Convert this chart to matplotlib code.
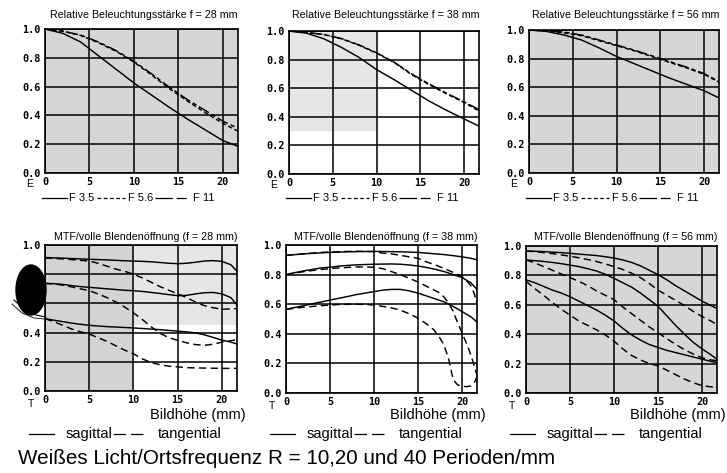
import numpy as np
import matplotlib
matplotlib.use('Agg')
import matplotlib.pyplot as plt
from matplotlib import font_manager
from matplotlib.lines import Line2D
from matplotlib.patches import Ellipse

# === Data ===
x_e = [0, 2, 4, 6, 8, 10, 12, 14, 16, 18, 20, 21.7]

# relative illumination f = 28 mm
e28_f35 = [1.0, 0.97, 0.91, 0.815, 0.72, 0.625, 0.54, 0.455, 0.375, 0.30, 0.225, 0.185]
e28_f56 = [1.0, 0.985, 0.955, 0.905, 0.845, 0.77, 0.68, 0.585, 0.50, 0.42, 0.345, 0.29]
e28_f11 = [1.0, 0.985, 0.958, 0.91, 0.85, 0.775, 0.688, 0.595, 0.51, 0.435, 0.36, 0.31]
# f = 38 mm
e38_f35 = [1.0, 0.985, 0.945, 0.885, 0.815, 0.73, 0.66, 0.585, 0.51, 0.445, 0.385, 0.335]
e38_f56 = [1.0, 0.99, 0.975, 0.945, 0.90, 0.845, 0.78, 0.695, 0.625, 0.56, 0.50, 0.44]
e38_f11 = [1.0, 0.99, 0.975, 0.947, 0.903, 0.848, 0.782, 0.70, 0.63, 0.565, 0.505, 0.45]
# f = 56 mm
e56_f35 = [1.0, 0.99, 0.965, 0.93, 0.875, 0.815, 0.765, 0.715, 0.665, 0.62, 0.575, 0.525]
e56_f56 = [1.0, 0.995, 0.98, 0.96, 0.925, 0.89, 0.855, 0.815, 0.775, 0.735, 0.69, 0.635]
e56_f11 = [1.0, 0.995, 0.985, 0.965, 0.93, 0.895, 0.86, 0.82, 0.78, 0.74, 0.695, 0.64]

x_t = [0, 1, 2, 3, 4, 5, 6, 7, 8, 9, 10, 11, 12, 13, 14, 15, 16, 17, 18, 19, 20, 21, 21.7]

# MTF f = 28 mm (sagittal / tangential, R = 10, 20, 40)
m28_s10 = [0.915, 0.912, 0.91, 0.907, 0.905, 0.902, 0.90, 0.898, 0.895, 0.892, 0.89, 0.888,
           0.885, 0.88, 0.875, 0.872, 0.875, 0.882, 0.89, 0.893, 0.888, 0.865, 0.82]
m28_t10 = [0.91, 0.908, 0.905, 0.90, 0.895, 0.89, 0.875, 0.855, 0.835, 0.82, 0.80, 0.775,
           0.745, 0.715, 0.69, 0.665, 0.64, 0.61, 0.585, 0.57, 0.56, 0.562, 0.565]
m28_s20 = [0.737, 0.735, 0.73, 0.722, 0.715, 0.71, 0.705, 0.70, 0.695, 0.69, 0.687, 0.682,
           0.675, 0.668, 0.66, 0.653, 0.655, 0.665, 0.673, 0.675, 0.665, 0.64, 0.59]
m28_t20 = [0.737, 0.733, 0.725, 0.713, 0.70, 0.687, 0.665, 0.64, 0.61, 0.575, 0.535, 0.49,
           0.44, 0.395, 0.365, 0.347, 0.33, 0.318, 0.313, 0.32, 0.335, 0.345, 0.35]
m28_s40 = [0.495, 0.485, 0.475, 0.465, 0.457, 0.45, 0.445, 0.441, 0.438, 0.435, 0.432, 0.428,
           0.424, 0.42, 0.415, 0.41, 0.405, 0.398, 0.385, 0.367, 0.348, 0.335, 0.322]
m28_t40 = [0.495, 0.475, 0.45, 0.425, 0.405, 0.39, 0.365, 0.34, 0.31, 0.28, 0.255, 0.22,
           0.195, 0.18, 0.17, 0.165, 0.16, 0.158, 0.157, 0.156, 0.155, 0.155, 0.155]

# MTF f = 38 mm
m38_s10 = [0.93, 0.935, 0.94, 0.944, 0.947, 0.95, 0.952, 0.954, 0.955, 0.956, 0.957, 0.956,
           0.955, 0.954, 0.952, 0.95, 0.945, 0.94, 0.935, 0.928, 0.92, 0.91, 0.90]
x38_t10 = [0, 2, 4, 6, 8, 10, 11, 12, 13, 14, 15, 16, 17, 18, 19, 20, 20.5, 21, 21.4, 21.7]
m38_t10 = [0.93, 0.94, 0.95, 0.955, 0.958, 0.955, 0.945, 0.94, 0.93, 0.92, 0.91, 0.885,
           0.865, 0.84, 0.815, 0.786, 0.76, 0.725, 0.67, 0.60]
m38_s20 = [0.80, 0.813, 0.825, 0.835, 0.845, 0.85, 0.857, 0.862, 0.866, 0.868, 0.87, 0.871,
           0.872, 0.87, 0.865, 0.858, 0.848, 0.835, 0.82, 0.80, 0.78, 0.745, 0.70]
x38_t20 = [0, 2, 4, 6, 8, 10, 11, 12, 13, 14, 15, 16, 17, 17.5, 18, 18.5, 19, 19.4, 20,
           20.4, 20.8, 21.2, 21.5, 21.7]
m38_t20 = [0.80, 0.82, 0.835, 0.845, 0.852, 0.85, 0.84, 0.82, 0.80, 0.775, 0.75, 0.72, 0.69,
           0.675, 0.645, 0.607, 0.55, 0.49, 0.405, 0.35, 0.29, 0.22, 0.16, 0.12]
m38_s40 = [0.565, 0.578, 0.59, 0.603, 0.615, 0.628, 0.64, 0.652, 0.665, 0.675, 0.685, 0.695,
           0.70, 0.70, 0.69, 0.675, 0.655, 0.635, 0.615, 0.585, 0.55, 0.515, 0.48]
x38_t40 = [0, 2, 4, 6, 8, 10, 11, 12, 13, 14, 15, 16, 16.8, 17.5, 17.9, 18.2, 18.5, 18.7,
           18.9, 19.2, 19.5, 20, 20.5, 21, 21.4, 21.7]
m38_t40 = [0.565, 0.58, 0.59, 0.598, 0.60, 0.595, 0.585, 0.575, 0.56, 0.535, 0.506, 0.465,
           0.427, 0.37, 0.33, 0.28, 0.225, 0.17, 0.115, 0.075, 0.055, 0.045, 0.043, 0.047,
           0.07, 0.11]

# MTF f = 56 mm
m56_s10 = [0.966, 0.964, 0.962, 0.958, 0.955, 0.95, 0.945, 0.94, 0.935, 0.927, 0.918, 0.905,
           0.888, 0.865, 0.835, 0.805, 0.77, 0.73, 0.695, 0.66, 0.625, 0.595, 0.575]
m56_t10 = [0.966, 0.961, 0.955, 0.948, 0.94, 0.93, 0.92, 0.908, 0.895, 0.878, 0.86, 0.84,
           0.815, 0.785, 0.745, 0.70, 0.665, 0.63, 0.595, 0.555, 0.52, 0.49, 0.466]
m56_s20 = [0.905, 0.90, 0.895, 0.888, 0.88, 0.87, 0.86, 0.846, 0.83, 0.808, 0.78, 0.75,
           0.72, 0.68, 0.635, 0.59, 0.525, 0.46, 0.40, 0.345, 0.30, 0.26, 0.23]
m56_t20 = [0.905, 0.885, 0.86, 0.835, 0.81, 0.785, 0.76, 0.73, 0.695, 0.665, 0.635, 0.585,
           0.54, 0.495, 0.45, 0.41, 0.37, 0.33, 0.295, 0.265, 0.24, 0.225, 0.22]
m56_s40 = [0.77, 0.75, 0.725, 0.70, 0.68, 0.655, 0.625, 0.595, 0.565, 0.53, 0.49, 0.44,
           0.395, 0.36, 0.33, 0.31, 0.29, 0.275, 0.26, 0.245, 0.23, 0.215, 0.207]
m56_t40 = [0.76, 0.71, 0.665, 0.615, 0.57, 0.53, 0.49, 0.46, 0.43, 0.395, 0.353, 0.30,
           0.255, 0.225, 0.20, 0.185, 0.155, 0.125, 0.095, 0.07, 0.05, 0.042, 0.04]

x_ticks = [0, 5, 10, 15, 20]
y_ticks = [0.0, 0.2, 0.4, 0.6, 0.8, 1.0]
y_ticklabels = ['0.0', '0.2', '0.4', '0.6', '0.8', '1.0']

titles_top = ['Relative Beleuchtungsstärke f = 28 mm',
              'Relative Beleuchtungsstärke f = 38 mm',
              'Relative Beleuchtungsstärke f = 56 mm']
titles_bottom = ['MTF/volle Blendenöffnung (f = 28 mm)',
                 'MTF/volle Blendenöffnung (f = 38 mm)',
                 'MTF/volle Blendenöffnung (f = 56 mm)']
caption = 'Weißes Licht/Ortsfrequenz R = 10,20 und 40 Perioden/mm'

# === Fonts ===
installed = {f.name for f in font_manager.fontManager.ttflist}
has_narrow = 'Liberation Sans Narrow' in installed
narrow = 'Liberation Sans Narrow' if has_narrow else 'Liberation Sans'
title_size = 8.8 if has_narrow else 7.7
sans = 'Liberation Sans'
mono = 'DejaVu Sans Mono'

# === Layout helpers (pixel boxes: left, top, right, bottom) ===
W, H = 727, 473
fig = plt.figure(figsize=(W / 100, H / 100), dpi=100)
fig.patch.set_facecolor('white')


def fx(px):
    return px / W


def fy(py):
    return 1 - py / H


def make_axes(l, t, r, b):
    ax = fig.add_axes([fx(l), fy(b), (r - l) / W, (b - t) / H])
    ax.set_xlim(0, 21.7)
    ax.set_ylim(0, 1.0)
    ax.set_xticks(x_ticks)
    ax.set_yticks(y_ticks)
    ax.set_yticklabels(y_ticklabels)
    ax.tick_params(length=0, pad=3, labelsize=7.3)
    for lab in ax.get_xticklabels() + ax.get_yticklabels():
        lab.set_family(mono)
        lab.set_fontweight('bold')
    ax.grid(True, color='black', linewidth=1.1)
    ax.set_axisbelow(True)
    for s in ax.spines.values():
        s.set_linewidth(1.2)
        s.set_color('black')
    return ax


boxes_top = [(45, 29, 238, 173), (289, 31, 479, 174), (529, 30, 719, 173)]
boxes_bot = [(45, 245, 237, 391), (286, 245, 477, 393), (526, 246, 717, 393)]

ls_solid = '-'
ls_dash = (0, (5, 3))
ls_f56 = (0, (3, 1.8))
ls_f11 = (0, (8, 2, 3, 2))
lw = 1.05

# --- Top row: relative illumination ---
e_sets = [(e28_f35, e28_f56, e28_f11), (e38_f35, e38_f56, e38_f11), (e56_f35, e56_f56, e56_f11)]
top_bg = ['#d6d6d6', None, '#d6d6d6']
for i, (box, (f35, f56, f11)) in enumerate(zip(boxes_top, e_sets)):
    ax = make_axes(*box)
    if top_bg[i]:
        ax.set_facecolor(top_bg[i])
    else:
        ax.axvspan(0, 10, ymin=0.3, color='#e6e6e6', lw=0, zorder=0)
    ax.plot(x_e, f35, color='black', lw=lw, ls=ls_solid)
    ax.plot(x_e, f56, color='black', lw=lw, ls=ls_f56)
    ax.plot(x_e, f11, color='black', lw=lw, ls=ls_f11)

    l, t, r, b = box
    fig.text(fx(r), fy(15), titles_top[i], ha='right', va='center',
             family=narrow, fontsize=title_size)
    fig.text(fx(l - 15), fy(b + 11), 'E', ha='center', va='center',
             family=sans, fontsize=7.5)
    # legend row
    yl = fy(198)
    fig.add_artist(Line2D([fx(l - 3), fx(l + 22)], [yl, yl], color='black', lw=0.9))
    fig.text(fx(l + 24), yl, 'F 3.5', ha='left', va='center', family=narrow, fontsize=8)
    fig.add_artist(Line2D([fx(l + 52), fx(l + 80)], [yl, yl], color='black', lw=0.9,
                          ls=(0, (3, 2))))
    fig.text(fx(l + 83), yl, 'F 5.6', ha='left', va='center', family=narrow, fontsize=8)
    fig.add_artist(Line2D([fx(l + 110), fx(l + 145)], [yl, yl], color='black', lw=0.9,
                          ls=(0, (14, 3, 8, 3))))
    fig.text(fx(l + 148), yl, 'F 11', ha='left', va='center', family=narrow, fontsize=8)

# --- Bottom row: MTF ---
m_sets = [
    [(x_t, m28_s10, ls_solid), (x_t, m28_t10, ls_dash), (x_t, m28_s20, ls_solid),
     (x_t, m28_t20, ls_dash), (x_t, m28_s40, ls_solid), (x_t, m28_t40, ls_dash)],
    [(x_t, m38_s10, ls_solid), (x38_t10, m38_t10, ls_dash), (x_t, m38_s20, ls_solid),
     (x38_t20, m38_t20, ls_dash), (x_t, m38_s40, ls_solid), (x38_t40, m38_t40, ls_dash)],
    [(x_t, m56_s10, ls_solid), (x_t, m56_t10, ls_dash), (x_t, m56_s20, ls_solid),
     (x_t, m56_t20, ls_dash), (x_t, m56_s40, ls_solid), (x_t, m56_t40, ls_dash)],
]
for i, (box, curves) in enumerate(zip(boxes_bot, m_sets)):
    ax = make_axes(*box)
    if i == 0:
        ax.axvspan(0, 10, color='#d3d3d3', lw=0, zorder=0)
        ax.axvspan(10, 21.7, ymin=0.45, color='#e6e6e6', lw=0, zorder=0)
    elif i == 2:
        ax.set_facecolor('#d6d6d6')
    for xs, ys, ls in curves:
        ax.plot(xs, ys, color='black', lw=lw, ls=ls)

    l, t, r, b = box
    fig.text(fx(r), fy(237), titles_bottom[i], ha='right', va='center',
             family=narrow, fontsize=title_size)
    fig.text(fx(l - 14), fy(b + 13), 'T', ha='center', va='center',
             family=sans, fontsize=7.5)
    fig.text(fx(r + 9), fy(415), 'Bildhöhe (mm)', ha='right', va='center',
             family=sans, fontsize=10.5)
    yl = fy(434)
    fig.add_artist(Line2D([fx(l - 16), fx(l + 9)], [yl, yl], color='black', lw=0.9))
    fig.text(fx(l + 21), yl, 'sagittal', ha='left', va='center', family=sans, fontsize=10.5)
    fig.add_artist(Line2D([fx(l + 68), fx(l + 100)], [yl, yl], color='black', lw=0.9,
                          ls=(0, (10, 4))))
    fig.text(fx(l + 113), yl, 'tangential', ha='left', va='center', family=sans, fontsize=10.5)

fig.text(fx(18), fy(458), caption, ha='left', va='center', family=sans, fontsize=14.9)

# scan artefact on the left margin
fig.add_artist(Ellipse((fx(31), fy(290)), 30 / W, 50 / H, color='black', zorder=10))
fig.add_artist(Line2D([fx(14), fx(24), fx(36), fx(46)], [fy(300), fy(309), fy(315), fy(317)],
                      color='black', lw=0.8, zorder=10))
fig.add_artist(Line2D([fx(12), fx(22), fx(34), fx(44)], [fy(304), fy(313), fy(318), fy(319)],
                      color='black', lw=0.6, zorder=10))

plt.savefig('out.png', dpi=100)
